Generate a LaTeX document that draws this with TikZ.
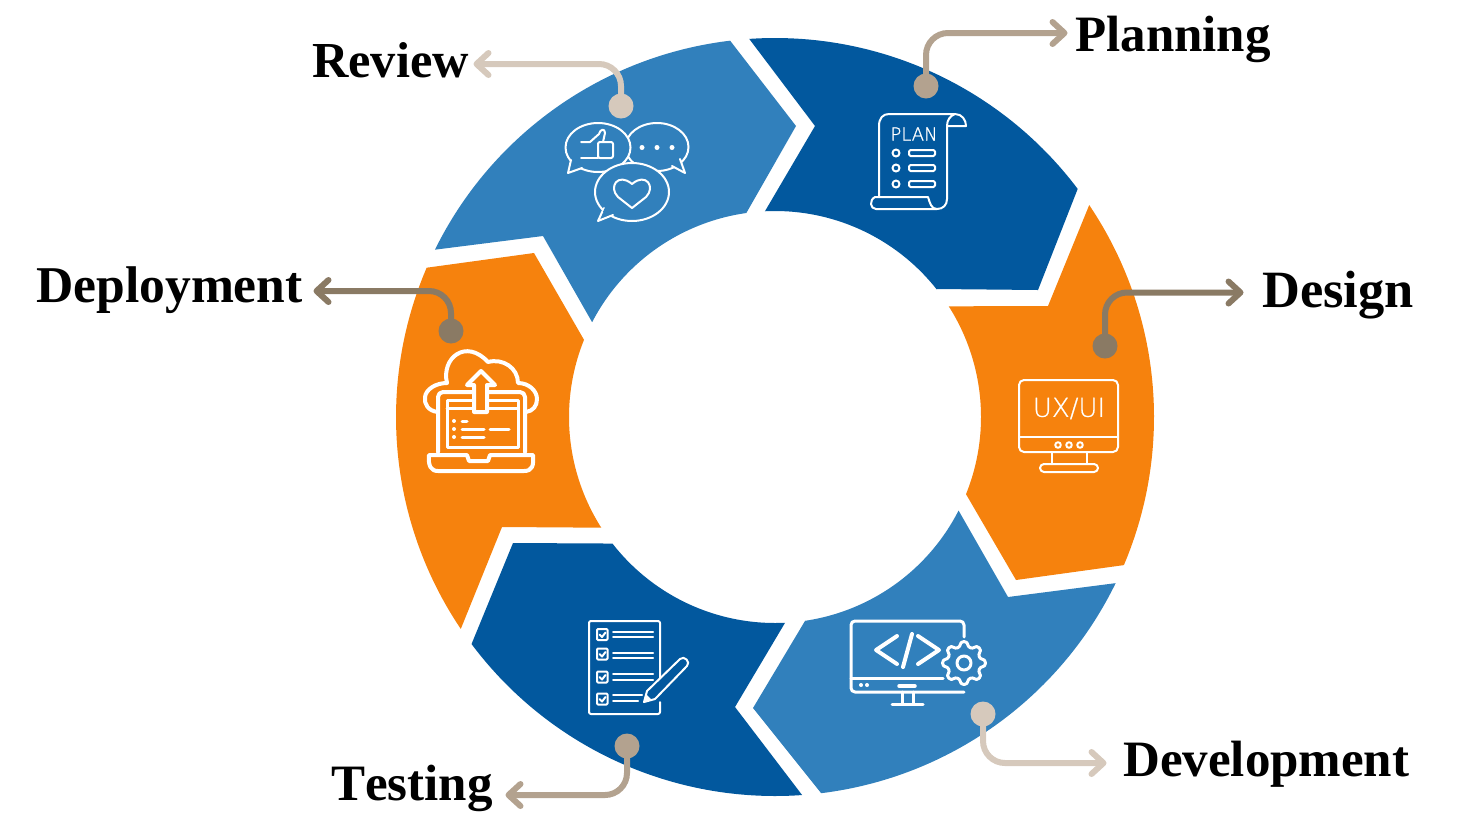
\documentclass[tikz,border=0pt]{standalone}
\usepackage{fontspec}
\setmainfont{Liberation Serif}
\newfontfamily\planfont[FakeBold=1.2]{DejaVu Sans ExtraLight}
\newfontfamily\uxfont[FakeBold=0.7]{DejaVu Sans ExtraLight}
\usetikzlibrary{arrows.meta,calc}
\definecolor{navy}{HTML}{02589E}
\definecolor{amber}{HTML}{F6820D}
\definecolor{steel}{HTML}{3180BC}
\definecolor{tanA}{HTML}{B3A28F}
\definecolor{tanB}{HTML}{8A7A64}
\definecolor{tanC}{HTML}{D6C9BC}
\tikzset{
  x=1pt,y=1pt,
  lbl/.style={font=\bfseries\fontsize{#1}{51}\selectfont,text=black,anchor=base west,inner sep=0pt},
  lbl/.default=51,
  pin/.style={circle,fill=#1,minimum size=25pt,inner sep=0pt},
  leader/.style={draw=#1,line width=6pt,rounded corners=22pt,line cap=round,-{Straight Barb[length=12pt,width=22pt,round]}},
  ico/.style={draw=white,line width=2pt,line join=round,line cap=round},
  icotxt/.style={text=white,inner sep=0pt}
}
\begin{document}
\begin{tikzpicture}
\useasboundingbox (0,0) rectangle (1463,-815);
\coordinate (C) at (775,-417);
% ring
\fill[navy] ([shift={(93.9:379pt)}]C) arc[start angle=93.9,end angle=37,radius=379pt] -- (1038,-290) -- (937,-289)
  -- ([shift={(38.3:206pt)}]C) arc[start angle=38.3,end angle=92.8,radius=206pt] -- (815,-126) -- cycle;
\fill[amber] ([shift={(34:379pt)}]C) arc[start angle=34,end angle=-23,radius=379pt] -- (1016,-580)
  -- ([shift={(-22:206pt)}]C) arc[start angle=-22,end angle=32.5,radius=206pt] -- (1048,-306) -- cycle;
\fill[steel] ([shift={(-26:379pt)}]C) arc[start angle=-26,end angle=-83,radius=379pt] -- (753,-708)
  -- ([shift={(-81.6:206pt)}]C) arc[start angle=-81.6,end angle=-27,radius=206pt] -- (1008,-597) -- cycle;
\fill[navy] ([shift={(-85.9:379pt)}]C) arc[start angle=-85.9,end angle=-143.2,radius=379pt] -- (513,-543)
  -- ([shift={(217.9:206pt)}]C) arc[start angle=217.9,end angle=272.8,radius=206pt] -- (735,-707) -- cycle;
\fill[amber] ([shift={(214:379pt)}]C) arc[start angle=214,end angle=156.8,radius=379pt] -- (534,-253)
  -- ([shift={(158:206pt)}]C) arc[start angle=158,end angle=212.5,radius=206pt] -- (502,-527) -- cycle;
\fill[steel] ([shift={(153.8:379pt)}]C) arc[start angle=153.8,end angle=96.8,radius=379pt] -- (796,-126)
  -- ([shift={(98:206pt)}]C) arc[start angle=98,end angle=152.6,radius=206pt] -- (543,-236) -- cycle;

% labels
\node[lbl] (lPlan) at (1075,-51) {Planning};
\node[lbl=52.4] (lDes) at (1262,-307.5) {Design};
\node[lbl] (lDev) at (1123,-776) {Development};
\node[lbl] (lTest) at (331,-800) {T\kern0pt esting};
\node[lbl=51.6] (lDep) at (36,-302) {Deployment};
\node[lbl=50.4] (lRev) at (312,-77) {Review};

% pins and leaders
\node[pin=tanA] (pPlan) at (926,-86) {};
\node[pin=tanB] (pDes) at (1105,-346) {};
\node[pin=tanC] (pDev) at (983,-714) {};
\node[pin=tanA] (pTest) at (627,-746) {};
\node[pin=tanB] (pDep) at (451,-331) {};
\node[pin=tanC] (pRev) at (621,-106) {};
\coordinate (tPlan) at (1067.5,-33);
\coordinate (tDes) at (1243.5,-292.5);
\coordinate (tDev) at (1106.5,-763);
\coordinate (tTest) at (505.5,-795);
\coordinate (tDep) at (313.5,-291);
\coordinate (tRev) at (473.5,-64);
\draw[leader=tanA] (pPlan.center) |- (tPlan);
\draw[leader=tanB] (pDes.center) |- (tDes);
\draw[leader=tanC] (pDev.center) |- (tDev);
\draw[leader=tanA] (pTest.center) |- (tTest);
\draw[leader=tanB] (pDep.center) |- (tDep);
\draw[leader=tanC] (pRev.center) |- (tRev);

\begin{scope}[yscale=-1]
% --- PLAN scroll
\draw[ico] (879,197) -- (879,126) .. controls (879,118) and (883,114) .. (889,114) -- (955,114)
  .. controls (962,114) and (966,120) .. (966,126) -- (947,126) .. controls (947,120) and (950,116) .. (955,114);
\draw[ico] (947,126) -- (947,199) .. controls (947,205) and (943,209) .. (937,209) -- (876,209)
  .. controls (870,209) and (869,200) .. (875,197) -- (928,197) .. controls (930,203) and (931,209) .. (937,209);
\foreach \yy in {153,168,184}{
  \draw[ico] (896,\yy) circle[radius=3.5pt];
  \draw[ico,rounded corners=1.5pt] (909,\yy-3) rectangle (935,\yy+3);
}
% --- Review bubbles
\draw[ico,fill=steel] (657,147) ellipse[x radius=31.5pt,y radius=24pt];
\draw[ico,fill=steel] (672,166) -- (685,173) -- (680,159);
\draw[ico,fill=steel] (598,147.5) ellipse[x radius=32.5pt,y radius=24.5pt];
\draw[ico,fill=steel] (571,160) -- (568,173) -- (582,168);
\fill[steel] (573,158) -- (572,165) -- (582,164) -- cycle;
\draw[ico] (581,142) -- (590,142) -- (599,134) .. controls (600,129) and (605,128) .. (605,133) -- (603,142);
\draw[ico,rounded corners=2pt] (598,142) rectangle (613,158);
\draw[ico] (581,158) -- (598,158);
\foreach \xx in {642,657,672}{\fill[white] (\xx,147.5) circle[radius=2.5pt];}
\draw[ico,fill=steel] (632,192) ellipse[x radius=37pt,y radius=29pt];
\draw[ico,fill=steel] (604,208) -- (598,221) -- (613,215);
\fill[steel] (606,205) -- (603,212) -- (614,211) -- cycle;
\draw[ico] (632,208) -- (618,197) .. controls (608,187) and (618,172) .. (632,184) .. controls (646,172) and (656,187) .. (646,197) -- cycle;
% --- UX/UI monitor
\draw[ico,rounded corners=5pt] (1019,380) rectangle (1118,452);
\draw[ico] (1019,437) -- (1118,437);
\foreach \xx in {1058,1069,1080}{\draw[ico] (\xx,445) circle[radius=2.8pt];}
\draw[ico] (1052,452) -- (1052,464) (1087,452) -- (1087,464);
\draw[ico,rounded corners=4pt] (1040,464) rectangle (1098,472);
% --- Cloud / laptop
\draw[ico,line width=4pt] (438,412) .. controls (428,411) and (424,404) .. (425,397) .. controls (426,389) and (436,383) .. (447,383)
  .. controls (441,358) and (466,338) .. (488,362) .. controls (503,358) and (518,368) .. (518,383)
  .. controls (529,383) and (537,391) .. (537,399) .. controls (537,406) and (533,411) .. (526,412);
\draw[ico,line width=4pt,rounded corners=5pt] (438,452) -- (438,392) -- (525,392) -- (525,452);
\draw[ico,line width=3pt] (447,447) rectangle (518,400);
\draw[ico,line width=3pt] (447,408) -- (518,408);
\draw[ico,line width=4pt,fill=amber] (474,412) -- (474,385) -- (467,385) -- (481,371) -- (495,385) -- (487,385) -- (487,412) -- cycle;
\foreach \yy in {421,429,437}{\fill[white] (454,\yy) circle[radius=2pt];}
\draw[ico,line width=3pt] (462,421) -- (467,421) (462,429) -- (484,429) (490,429) -- (509,429) (462,437) -- (484,437);
\draw[ico,line width=4pt] (429,455) -- (467,455) -- (469,461) -- (488,461) -- (490,455) -- (533,455)
  .. controls (534,466) and (532,471) .. (524,471) -- (438,471) .. controls (431,471) and (428,466) .. (429,455) -- cycle;
% --- Testing checklist
\draw[ico,rounded corners=2pt] (660,682) -- (660,621) -- (589,621) -- (589,714) -- (660,714) -- (660,702);
\foreach \yy in {634.5,654,677,699}{
  \draw[ico,rounded corners=1pt] (597,\yy-5.5) rectangle (607.5,\yy+5.5);
  \draw[ico] (599.5,\yy) -- (602,\yy+2.5) -- (605.5,\yy-2);
}
\draw[ico] (613,632) -- (653,632) (613,637) -- (653,637) (613,653) -- (653,653) (613,658) -- (653,658)
  (613,674) -- (653,674) (613,680) -- (653,680) (613,695) -- (642,695) (613,701) -- (638,701);
\draw[ico,fill=navy] (644,702) -- (647,691) -- (680,659) .. controls (684,655) and (691,662) .. (687,666) -- (655,699) -- cycle;
\fill[white] (644,702) -- (646,694) -- (652,700) -- cycle;
% --- Dev monitor
\draw[ico,line width=3pt,rounded corners=4pt] (964,637) -- (964,621) -- (851,621) -- (851,692) -- (964,692);
\draw[ico,line width=3pt] (851,678) -- (943,678);
\fill[white] (861,685) circle[radius=2pt] (867,685) circle[radius=2pt];
\draw[ico,line width=3.5pt] (899,686) -- (915,686);
\draw[ico,line width=3pt] (902,692) -- (902,704) (913,692) -- (913,704) (892,704) -- (923,704);
\draw[ico,line width=4pt] (897,636) -- (876,650) -- (897,664) (912,634) -- (903,667) (918,636) -- (939,650) -- (918,664);
\draw[ico,line width=3pt,fill=steel] plot[smooth cycle,domain=0:352.5,samples=48,variable=\aa]
  ({964+(19+2.5*max(-1,min(1,1.4*cos(8*\aa))))*cos(\aa)},{663+(19+2.5*max(-1,min(1,1.4*cos(8*\aa))))*sin(\aa)});
\draw[ico,line width=3pt] (964,663) circle[radius=7pt];
\end{scope}
% icon texts
\node[icotxt,font=\planfont\fontsize{18}{18}\selectfont] (tPLAN) at (914,-134) {PLAN};
\node[icotxt,font=\uxfont\fontsize{26}{26}\selectfont] (tUX) at (1069,-408.5) {UX/UI};
\end{tikzpicture}
\end{document}
